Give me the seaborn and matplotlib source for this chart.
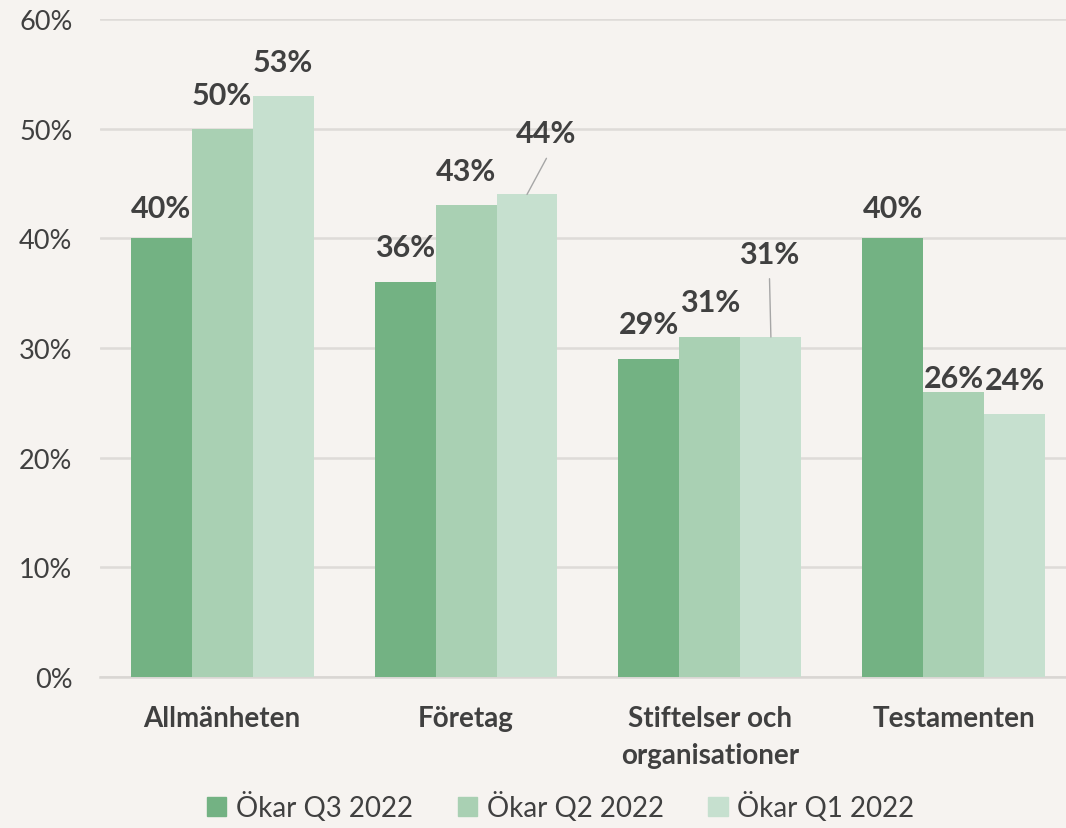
import matplotlib
matplotlib.use("Agg")
import matplotlib.pyplot as plt
import seaborn as sns
import pandas as pd

categories = ["Allmänheten", "Företag", "Stiftelser och\norganisationer", "Testamenten"]
series_names = ["Ökar Q3 2022", "Ökar Q2 2022", "Ökar Q1 2022"]
q3_values = [0.40, 0.36, 0.29, 0.40]
q2_values = [0.50, 0.43, 0.31, 0.26]
q1_values = [0.53, 0.44, 0.31, 0.24]
y_ticks = [0, 0.1, 0.2, 0.3, 0.4, 0.5, 0.6]
y_tick_labels = ["0%", "10%", "20%", "30%", "40%", "50%", "60%"]

colors = ["#73B283", "#A9D0B3", "#C6E0CF"]
bg = "#F6F3F0"
text_color = "#404040"

sns.set_theme(style="white")
plt.rcParams["font.family"] = ["Lato", "DejaVu Sans"]

rows = []
for name, vals in zip(series_names, [q3_values, q2_values, q1_values]):
    for c, v in zip(categories, vals):
        rows.append({"Kategori": c, "Serie": name, "Värde": v})
df = pd.DataFrame(rows)

fig = plt.figure(figsize=(10.66, 8.29), dpi=100, facecolor=bg)
ax = fig.add_axes([0.094, 0.182, 0.906, 0.794])
ax.set_facecolor(bg)

sns.barplot(data=df, x="Kategori", y="Värde", hue="Serie", palette=colors,
            order=categories, hue_order=series_names, width=0.75,
            saturation=1, ax=ax, legend=True, zorder=3, linewidth=0,
            edgecolor="none")

ax.set_ylim(0, 0.6)
ax.set_xlim(-0.5, 3.46)
ax.set_yticks(y_ticks)
ax.set_yticklabels(y_tick_labels, fontsize=19.5, color=text_color)
ax.tick_params(axis="y", length=0, pad=20)
ax.tick_params(axis="x", length=0, pad=20)
for lab in ax.get_xticklabels():
    lab.set_fontsize(20)
    lab.set_fontweight("bold")
    lab.set_color(text_color)
    lab.set_linespacing(1.55)
ax.set_xlabel("")
ax.set_ylabel("")
ax.yaxis.grid(True, color="#DEDBD8", linewidth=1.8, zorder=0)
ax.set_axisbelow(True)
for s in ["top", "right", "left"]:
    ax.spines[s].set_visible(False)
ax.spines["bottom"].set_color("#D9D6D3")
ax.spines["bottom"].set_linewidth(1.8)

# label offsets in points (dx, dy) relative to bar top center, per series/category
label_offsets = [
    [(0, 22), (0, 25), (0, 25), (0, 22)],
    [(0, 24), (0, 25), (0, 25), (0, 10)],
    [(0, 24), (14, 44), (-1, 60), (0, 24)],
]
leader = [
    [False, False, False, False],
    [False, False, False, False],
    [False, True, True, False],
]

all_vals = [q3_values, q2_values, q1_values]
containers = ax.containers
for si, cont in enumerate(containers):
    for ci, bar in enumerate(cont):
        v = all_vals[si][ci]
        x = bar.get_x() + bar.get_width() / 2
        dx, dy = label_offsets[si][ci]
        ax.annotate(f"{round(v*100):d}%", xy=(x, v), xytext=(dx, dy),
                    textcoords="offset points", ha="center", va="center",
                    fontsize=22, fontweight="bold", color=text_color, zorder=5)
        if leader[si][ci]:
            ax.annotate("", xy=(x, v), xytext=(dx, dy - 18),
                        textcoords="offset points",
                        arrowprops=dict(arrowstyle="-", color="#A6A6A6", lw=1.0,
                                        shrinkA=0, shrinkB=0))

ax.get_legend().remove()
handles = [plt.Rectangle((0, 0), 1, 1, color=c) for c in colors]
fig.legend(handles, series_names, loc="center", bbox_to_anchor=(0.526, 0.026),
           ncol=3, frameon=False, fontsize=20, handlelength=0.7, handleheight=0.7,
           handletextpad=0.35, columnspacing=1.6, labelcolor=text_color)

fig.savefig("out.png", dpi=100, facecolor=bg)
